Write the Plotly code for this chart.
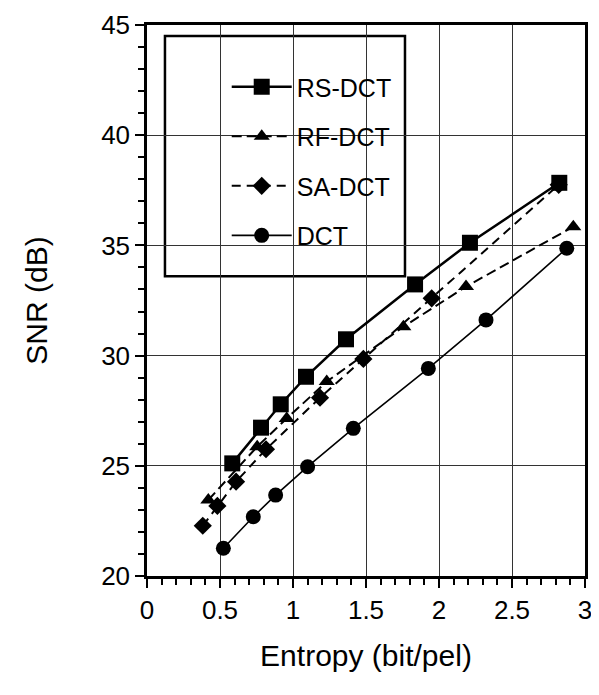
import plotly.graph_objects as go

# ---- data ----
rs_x = [0.584, 0.781, 0.916, 1.089, 1.363, 1.836, 2.212, 2.824]
rs_y = [25.11, 26.73, 27.79, 29.04, 30.74, 33.23, 35.12, 37.84]

rf_x = [0.42, 0.755, 0.957, 1.231, 1.756, 2.185, 2.92]
rf_y = [23.45, 25.87, 27.15, 28.82, 31.31, 33.13, 35.85]

sa_x = [0.382, 0.482, 0.61, 0.815, 1.185, 1.482, 1.95, 2.82]
sa_y = [22.28, 23.18, 24.28, 25.75, 28.09, 29.85, 32.6, 37.75]

dct_x = [0.523, 0.728, 0.881, 1.10, 1.413, 1.927, 2.322, 2.875]
dct_y = [21.26, 22.69, 23.67, 24.96, 26.70, 29.42, 31.62, 34.87]

x_ticks = [0, 0.5, 1, 1.5, 2, 2.5, 3]
x_ticklabels = ["0", "0.5", "1", "1.5", "2", "2.5", "3"]
y_ticks = [20, 25, 30, 35, 40, 45]
y_ticklabels = ["20", "25", "30", "35", "40", "45"]

FONT = "Liberation Sans, Arial, Helvetica, sans-serif"

fig = go.Figure()

fig.add_trace(go.Scatter(
    x=rs_x, y=rs_y, name="RS-DCT", mode="lines+markers",
    line=dict(color="black", width=2.5),
    marker=dict(symbol="square", size=16, color="black"),
    legendgroup="a"))
fig.add_trace(go.Scatter(
    x=rf_x, y=rf_y, name="RF-DCT", mode="lines+markers",
    line=dict(color="black", width=2, dash="10px,5px"),
    marker=dict(symbol="triangle-up", size=14, color="black"),
    legendgroup="b"))
fig.add_trace(go.Scatter(
    x=sa_x, y=sa_y, name="SA-DCT", mode="lines+markers",
    line=dict(color="black", width=2, dash="9px,6px"),
    marker=dict(symbol="diamond", size=14, color="black"),
    legendgroup="c"))
fig.add_trace(go.Scatter(
    x=dct_x, y=dct_y, name="DCT", mode="lines+markers",
    line=dict(color="black", width=1.6),
    marker=dict(symbol="circle", size=15, color="black"),
    legendgroup="d"))

# legend frame
fig.add_shape(type="rect", xref="paper", yref="paper",
              x0=0.041, x1=0.589, y0=0.544, y1=0.980,
              line=dict(color="black", width=2.5), fillcolor="white",
              layer="between")

# page body has an 8px default margin, so the figure is sized to fit
fig.update_layout(
    width=591, height=687,
    margin=dict(l=139, r=14, t=17, b=119, autoexpand=False),
    paper_bgcolor="white", plot_bgcolor="white",
    font=dict(family=FONT, color="black", size=26),
    legend=dict(x=0.182, y=0.929, xanchor="left", yanchor="top",
                bgcolor="rgba(0,0,0,0)", borderwidth=0,
                font=dict(size=25, family=FONT),
                tracegroupgap=14, itemwidth=60),
    showlegend=True,
)

fig.update_xaxes(
    range=[0, 3], tickvals=x_ticks, ticktext=x_ticklabels,
    showline=True, linecolor="black", linewidth=2.5, mirror=True,
    ticks="outside", ticklen=9, tickwidth=2, tickcolor="black",
    showgrid=True, gridcolor="#333", gridwidth=1, zeroline=False,
    minor=dict(dtick=0.1, ticks="outside", ticklen=6, tickwidth=1.5,
               tickcolor="black", showgrid=False),
    tickfont=dict(size=26), automargin=False,
    title=dict(text="Entropy (bit/pel)", font=dict(size=30), standoff=22),
)
fig.update_yaxes(
    range=[20, 45], tickvals=y_ticks, ticktext=y_ticklabels,
    showline=True, linecolor="black", linewidth=2.5, mirror=True,
    ticks="outside", ticklen=9, tickwidth=2, tickcolor="black",
    showgrid=True, gridcolor="#333", gridwidth=1, zeroline=False,
    minor=dict(dtick=1, ticks="outside", ticklen=6, tickwidth=1.5,
               tickcolor="black", showgrid=False),
    tickfont=dict(size=26), automargin=False,
    title=dict(text="SNR (dB)", font=dict(size=30), standoff=45),
)

fig.write_html("out.html")
